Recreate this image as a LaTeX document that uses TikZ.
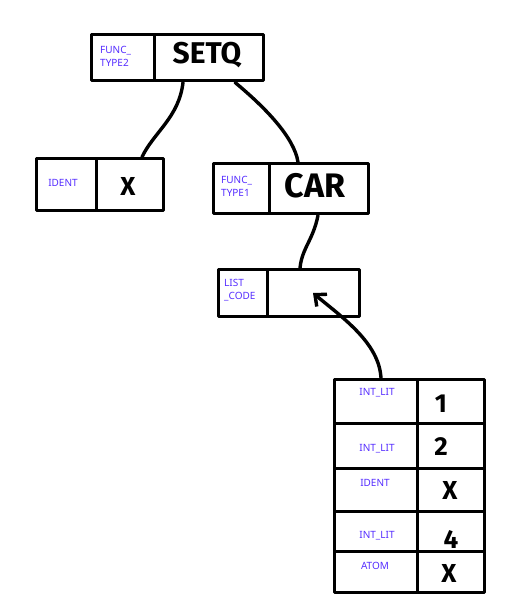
\documentclass[tikz,border=0pt]{standalone}
\usepackage{fontspec}
\setmainfont{Noto Sans}
\newfontfamily\bigfont{Fira Sans}
\usetikzlibrary{arrows.meta}
\definecolor{lbl}{RGB}{85,45,255}
\tikzset{
  ink/.style={line width=3.4pt, line cap=round, line join=round},
  cell/.style={ink, draw, inner sep=0pt, anchor=north west},
  lab/.style={text=lbl, font=\fontsize{10}{13}\selectfont, align=left, inner sep=0pt},
  big/.style={font=\bigfont\bfseries\fontsize{30}{30}\selectfont, inner sep=0pt},
  mid/.style={font=\bigfont\bfseries\fontsize{26}{26}\selectfont, inner sep=0pt},
  conn/.style={ink},
}
\begin{document}
\begin{tikzpicture}[x=1pt,y=-1pt]
\useasboundingbox (0,0) rectangle (513,611);
% SETQ box
\node[cell, minimum width=63pt, minimum height=46pt] (setqL) at (90,33) {};
\node[cell, minimum width=109pt, minimum height=46pt] (setqR) at (153,33) {};
\node[lab, anchor=west] (setqLt) at (100,56) {FUNC\_\\TYPE2};
\node[big] (setqRt) at (207,55) {SETQ};
% IDENT box
\node[cell, minimum width=60pt, minimum height=52pt] (idL) at (35,157) {};
\node[cell, minimum width=67pt, minimum height=52pt] (idR) at (95,157) {};
\node[lab] (idLt) at (63,183) {IDENT};
\node[mid] (idRt) at (128,186) {X};
% CAR box
\node[cell, minimum width=56pt, minimum height=50pt] (carL) at (212,162) {};
\node[cell, minimum width=99pt, minimum height=50pt] (carR) at (268,162) {};
\node[lab, anchor=west] (carLt) at (221,186) {FUNC\_\\TYPE1};
\node[big, font=\bigfont\bfseries\fontsize{34}{34}\selectfont] (carRt) at (315,186) {CAR};
% LIST_CODE box
\node[cell, minimum width=49pt, minimum height=47pt] (listL) at (217,268) {};
\node[cell, minimum width=92pt, minimum height=47pt] (listR) at (266,268) {};
\node[lab, anchor=west] (listLt) at (224,290) {LIST\\\_CODE};
% table
\node[cell, minimum width=83pt, minimum height=44pt] (r1L) at (333,378) {};
\node[cell, minimum width=67pt, minimum height=44pt] (r1R) at (416,378) {};
\node[cell, minimum width=83pt, minimum height=45pt] (r2L) at (333,422) {};
\node[cell, minimum width=67pt, minimum height=45pt] (r2R) at (416,422) {};
\node[cell, minimum width=83pt, minimum height=43pt] (r3L) at (333,467) {};
\node[cell, minimum width=67pt, minimum height=43pt] (r3R) at (416,467) {};
\node[cell, minimum width=83pt, minimum height=40pt] (r4L) at (333,510) {};
\node[cell, minimum width=67pt, minimum height=40pt] (r4R) at (416,510) {};
\node[cell, minimum width=83pt, minimum height=41pt] (r5L) at (333,550) {};
\node[cell, minimum width=67pt, minimum height=41pt] (r5R) at (416,550) {};
\node[lab] (r1Lt) at (377,393) {INT\_LIT};
\node[lab] (r2Lt) at (377,449) {INT\_LIT};
\node[lab] (r3Lt) at (375,483) {IDENT};
\node[lab] (r4Lt) at (377,536) {INT\_LIT};
\node[lab] (r5Lt) at (375,566) {ATOM};
\node[mid] (r1Rt) at (441,404) {1};
\node[mid] (r2Rt) at (441,447) {2};
\node[mid] (r3Rt) at (450,490) {X};
\node[mid] (r4Rt) at (451,539) {4};
\node[mid] (r5Rt) at (449,573) {X};
% connectors
\draw[conn] ([xshift=30pt]setqR.south west) .. controls +(-4,35) and +(12,-25) .. ([xshift=47pt]idR.north west);
\draw[conn] ([xshift=82pt]setqR.south west) .. controls +(30,25) and +(-4,-25) .. ([xshift=30pt]carR.north west);
\draw[conn] ([xshift=50pt]carR.south west) .. controls +(-5,25) and +(2,-20) .. ([xshift=34pt]listR.north west);
\coordinate (arrowEnd) at (313,293);
\draw[conn, -{Straight Barb[length=9pt,width=16pt,line width=3.4pt]}] ([xshift=48pt]r1L.north west) .. controls +(-2,-35) and +(30,25) .. (arrowEnd);
\end{tikzpicture}
\end{document}
